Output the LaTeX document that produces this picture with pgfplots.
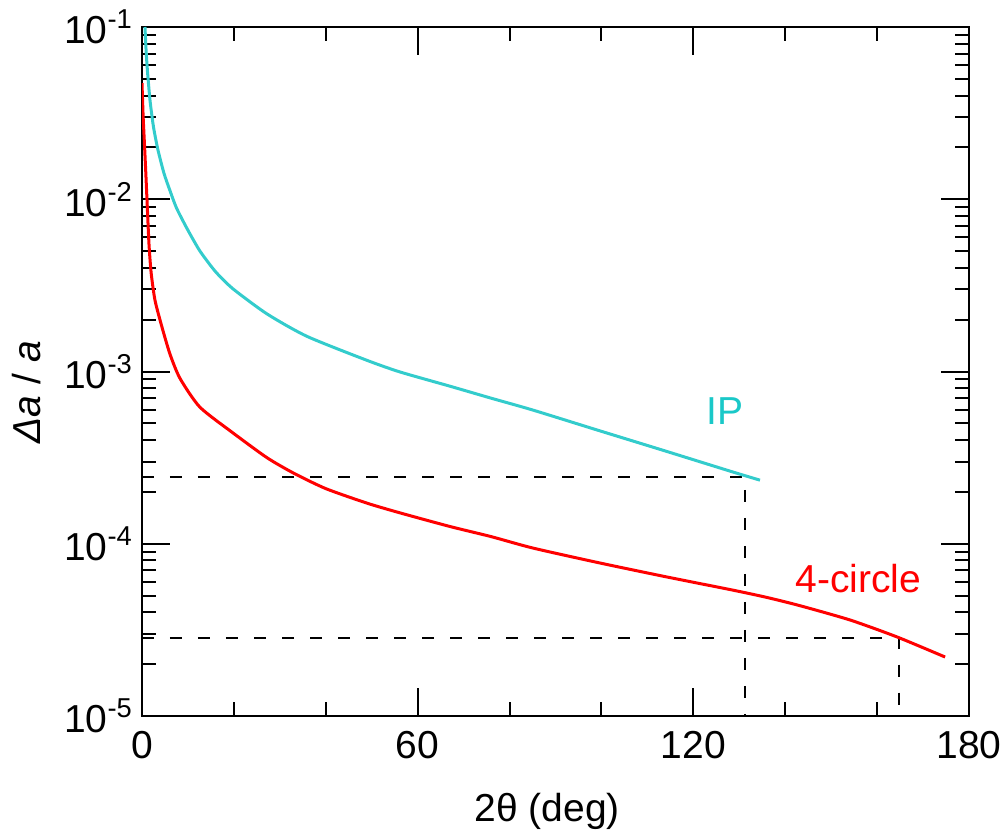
\documentclass[border=0pt]{standalone}
\usepackage{fontspec}
\setmainfont{Liberation Sans}
\usepackage{pgfplots}
\pgfplotsset{compat=1.18}
\definecolor{ipcyan}{RGB}{51,204,204}
\definecolor{iptext}{RGB}{26,200,200}
\definecolor{fcred}{RGB}{255,0,0}
\newcommand\bigf{\fontsize{19.5}{23}\selectfont}
\begin{document}
\begin{tikzpicture}
\useasboundingbox (-71pt,-59pt) rectangle (432pt,358pt);
\begin{axis}[
  scale only axis, width=413.5pt, height=344.5pt,
  at={(0,0)}, anchor=south west,
  xmin=0, xmax=180, ymode=log, ymin=1e-5, ymax=1e-1,
  xtick={0,60,120,180}, xticklabels={0,60,120,180},
  minor xtick={20,40,80,100,140,160},
  ytick={1e-5,1e-4,1e-3,1e-2,1e-1},
  yticklabels={10\textsuperscript{-5},10\textsuperscript{-4},10\textsuperscript{-3},10\textsuperscript{-2},10\textsuperscript{-1}},
  minor ytick={2e-5,3e-5,4e-5,5e-5,6e-5,7e-5,8e-5,9e-5,
               2e-4,3e-4,4e-4,5e-4,6e-4,7e-4,8e-4,9e-4,
               2e-3,3e-3,4e-3,5e-3,6e-3,7e-3,8e-3,9e-3,
               2e-2,3e-2,4e-2,5e-2,6e-2,7e-2,8e-2,9e-2},
  tick align=inside, tick pos=both,
  major tick length=14pt, minor tick length=7pt,
  every tick/.style={black, line width=1pt},
  axis line style={line width=1.3pt},
  tick label style={font=\bigf},
  xticklabel style={yshift=-4pt},
  yticklabel style={xshift=-1pt},
]
\addplot[black, line width=1pt, dash pattern=on 6pt off 8pt] coordinates {(0,2.44e-4) (131.3,2.44e-4) (131.3,1e-5)};
\addplot[black, line width=1pt, dash pattern=on 6pt off 8pt] coordinates {(0,2.85e-5) (164.8,2.85e-5) (164.8,1e-5)};
% IP
\addplot[ipcyan, line width=1.5pt, smooth, tension=0.4] coordinates {
(0.65,1.0e-1) (0.9,7.24e-2) (1.2,5.50e-2) (1.74,3.76e-2) (2.5,2.63e-2) (3.48,1.93e-2)
(4.8,1.41e-2) (6.1,1.12e-2) (7.5,8.91e-3) (9.8,6.76e-3) (12.6,5.01e-3) (16,3.80e-3)
(19.8,3.02e-3) (27.2,2.16e-3) (35.9,1.60e-3) (49.0,1.16e-3) (56.2,9.93e-4) (67.0,8.22e-4)
(76,7.00e-4) (85.1,5.97e-4) (99.7,4.52e-4) (114.3,3.43e-4) (128.6,2.61e-4) (134.5,2.34e-4)};
% 4-circle
\addplot[fcred, line width=1.5pt, smooth, tension=0.4] coordinates {
(0,4.72e-2) (0.25,3.02e-2) (0.5,2.19e-2) (0.8,1.48e-2) (1.09,9.89e-3) (1.52,5.50e-3)
(2.0,3.72e-3) (2.83,2.59e-3) (4.35,1.81e-3) (6.1,1.26e-3) (8.27,9.12e-4) (12.6,6.21e-4)
(19.8,4.40e-4) (27.2,3.16e-4) (33,2.57e-4) (40,2.09e-4) (49.0,1.72e-4) (56.2,1.51e-4)
(67.0,1.26e-4) (76,1.10e-4) (85.1,9.44e-5) (99.7,7.73e-5) (114.3,6.41e-5) (128.6,5.38e-5)
(136.0,4.88e-5) (143.2,4.37e-5) (154.1,3.61e-5) (164.3,2.88e-5) (174.8,2.20e-5)};
\node[text=iptext, font=\bigf] at (axis cs:126.9,5.89e-4) {IP};
\node[text=fcred, font=\bigf] at (axis cs:155.9,6.24e-5) {4-circle};
\end{axis}
\node[font=\bigf] at (202.6pt,-47.5pt) {2θ (deg)};
\node[font=\bigf, rotate=90] at (-57.5pt,161.9pt) {\textit{Δa} / \textit{a}};
\end{tikzpicture}
\end{document}
